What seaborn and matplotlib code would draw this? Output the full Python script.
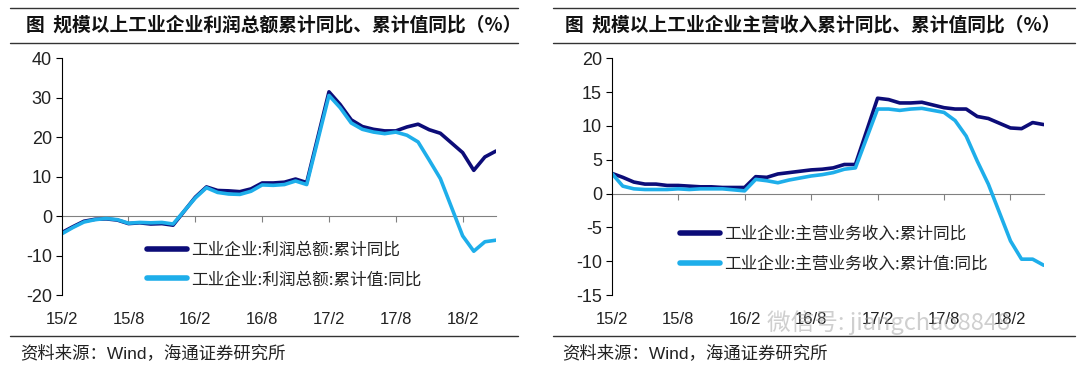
import matplotlib
matplotlib.use("Agg")
import matplotlib.pyplot as plt
import pandas as pd
import seaborn as sns
from matplotlib.lines import Line2D

# 月份（1月无数据，与2月合并公布）
months = ['15/2', '15/3', '15/4', '15/5', '15/6', '15/7', '15/8', '15/9', '15/10', '15/11', '15/12',
          '16/2', '16/3', '16/4', '16/5', '16/6', '16/7', '16/8', '16/9', '16/10', '16/11', '16/12',
          '17/2', '17/3', '17/4', '17/5', '17/6', '17/7', '17/8', '17/9', '17/10', '17/11', '17/12',
          '18/2', '18/3', '18/4', '18/5']

# 利润总额
profit_cum = [-4.2, -2.7, -1.3, -0.8, -0.7, -1.0, -1.9, -1.7, -2.0, -1.9, -2.3,
              4.8, 7.4, 6.5, 6.4, 6.2, 6.9, 8.4, 8.4, 8.6, 9.4, 8.5,
              31.5, 28.3, 24.4, 22.7, 22.0, 21.6, 21.6, 22.6, 23.3, 21.9, 21.0,
              16.1, 11.6, 15.0, 16.5]
profit_val = [-4.5, -2.9, -1.5, -0.9, -0.6, -0.9, -1.8, -1.6, -1.7, -1.6, -2.0,
              4.6, 7.2, 6.0, 5.6, 5.5, 6.3, 7.9, 7.8, 8.0, 8.9, 8.0,
              30.6, 27.5, 23.6, 22.0, 21.3, 20.9, 21.3, 20.5, 18.8, 14.2, 9.5,
              -5.0, -8.9, -6.5, -6.1]

# 主营业务收入
rev_cum = [3.0, 2.4, 1.7, 1.4, 1.4, 1.2, 1.2, 1.1, 1.0, 1.0, 0.9,
           0.9, 2.5, 2.4, 2.9, 3.1, 3.3, 3.5, 3.6, 3.8, 4.3, 4.3,
           14.1, 13.9, 13.4, 13.4, 13.5, 13.1, 12.7, 12.5, 12.5, 11.4, 11.1,
           9.7, 9.6, 10.5, 10.2]
rev_val = [3.0, 1.1, 0.7, 0.6, 0.6, 0.6, 0.7, 0.6, 0.7, 0.7, 0.7,
           0.4, 2.1, 1.9, 1.6, 2.0, 2.3, 2.6, 2.8, 3.1, 3.6, 3.8,
           12.5, 12.5, 12.3, 12.5, 12.6, 12.3, 12.0, 10.8, 8.5, 4.8, 1.4,
           -7.0, -9.7, -9.7, -10.6]

tick_labels = ['15/2', '15/8', '16/2', '16/8', '17/2', '17/8', '18/2']


def month_index(label):
    yy, mm = label.split('/')
    return (int(yy) - 15) * 12 + int(mm) - 2


x = [month_index(m) for m in months]
tick_pos = [month_index(m) for m in tick_labels]

sns.set_theme(style="white")
plt.rcParams['font.family'] = ['Liberation Sans', 'Noto Sans CJK SC', 'DejaVu Sans']
plt.rcParams['axes.unicode_minus'] = False
cjk = ['Noto Sans CJK SC', 'DejaVu Sans']

dark = '#0c0c78'
light = '#1eaeea'

fig = plt.figure(figsize=(10.8, 3.75), dpi=100)
ax1 = fig.add_axes([0.0571, 0.2133, 0.4022, 0.6312])
ax2 = fig.add_axes([0.5664, 0.2133, 0.4, 0.6312])

panels = [
    (ax1, profit_cum, profit_val, '工业企业:利润总额:累计同比', '工业企业:利润总额:累计值:同比',
     (-20, 40), range(-20, 41, 10), (0.178, 0.127)),
    (ax2, rev_cum, rev_val, '工业企业:主营业务收入:累计同比', '工业企业:主营业务收入:累计值:同比',
     (-15, 20), range(-15, 21, 5), (0.138, 0.194)),
]

for ax, s1, s2, lab1, lab2, ylim, yticks, leg_pos in panels:
    df = pd.DataFrame({'x': x, 'a': s1, 'b': s2})
    sns.lineplot(data=df, x='x', y='a', color=dark, lw=2.6, ax=ax, label=lab1)
    sns.lineplot(data=df, x='x', y='b', color=light, lw=2.6, ax=ax, label=lab2)
    ax.set_xlim(0, 39)
    ax.set_ylim(*ylim)
    ax.set_yticks(list(yticks))
    ax.set_xticks(tick_pos)
    ax.set_xticklabels(tick_labels)
    ax.set_xlabel('')
    ax.set_ylabel('')
    for side in ['top', 'right', 'bottom']:
        ax.spines[side].set_visible(False)
    ax.spines['left'].set_color('black')
    ax.spines['left'].set_linewidth(0.8)
    ax.tick_params(axis='y', left=True, length=4, width=0.8, color='black', labelsize=13,
                   pad=3, labelcolor='#222222')
    ax.tick_params(axis='x', bottom=False, labelsize=12, pad=6, labelcolor='#222222')
    ax.grid(False)

    # 零轴及刻度
    zero_frac = (0 - ylim[0]) / (ylim[1] - ylim[0])
    sec = ax.secondary_xaxis(zero_frac)
    sec.set_xticks(tick_pos[1:])
    sec.set_xticklabels([])
    sec.tick_params(axis='x', direction='out', length=4, width=0.8, color='#808080')
    sec.spines['bottom'].set_color('#808080')
    sec.spines['bottom'].set_linewidth(0.8)

    leg = ax.legend(loc='center left', bbox_to_anchor=leg_pos, frameon=False,
                    handlelength=2.4, handletextpad=0.25, labelspacing=0.75, borderpad=0,
                    prop={'family': cjk, 'size': 12})
    for h in leg.get_lines():
        h.set_linewidth(4)
    for t in leg.get_texts():
        t.set_color('#222222')

# 标题、分隔线、来源
fig.text(0.024, 0.933, '图  规模以上工业企业利润总额累计同比、累计值同比（%）', fontsize=13.5,
         fontweight='bold', family=cjk, va='center', color='#111111')
fig.text(0.523, 0.933, '图  规模以上工业企业主营收入累计同比、累计值同比（%）', fontsize=13.5,
         fontweight='bold', family=cjk, va='center', color='#111111')
for x0, x1 in [(0.009, 0.48), (0.512, 0.995)]:
    for yy in [0.979, 0.885, 0.104]:
        fig.add_artist(Line2D([x0, x1], [yy, yy], color='#333333', lw=1.0))
fig.text(0.019, 0.059, '资料来源：Wind，海通证券研究所', fontsize=12.5, family=['Liberation Sans'] + cjk,
         va='center', color='#222222')
fig.text(0.521, 0.059, '资料来源：Wind，海通证券研究所', fontsize=12.5, family=['Liberation Sans'] + cjk,
         va='center', color='#222222')
fig.text(0.71, 0.139, '微信号: jiangchao8848', fontsize=17, color='#a8a8a8', alpha=0.55,
         family=cjk, va='center')

fig.savefig('out.png', dpi=100)
